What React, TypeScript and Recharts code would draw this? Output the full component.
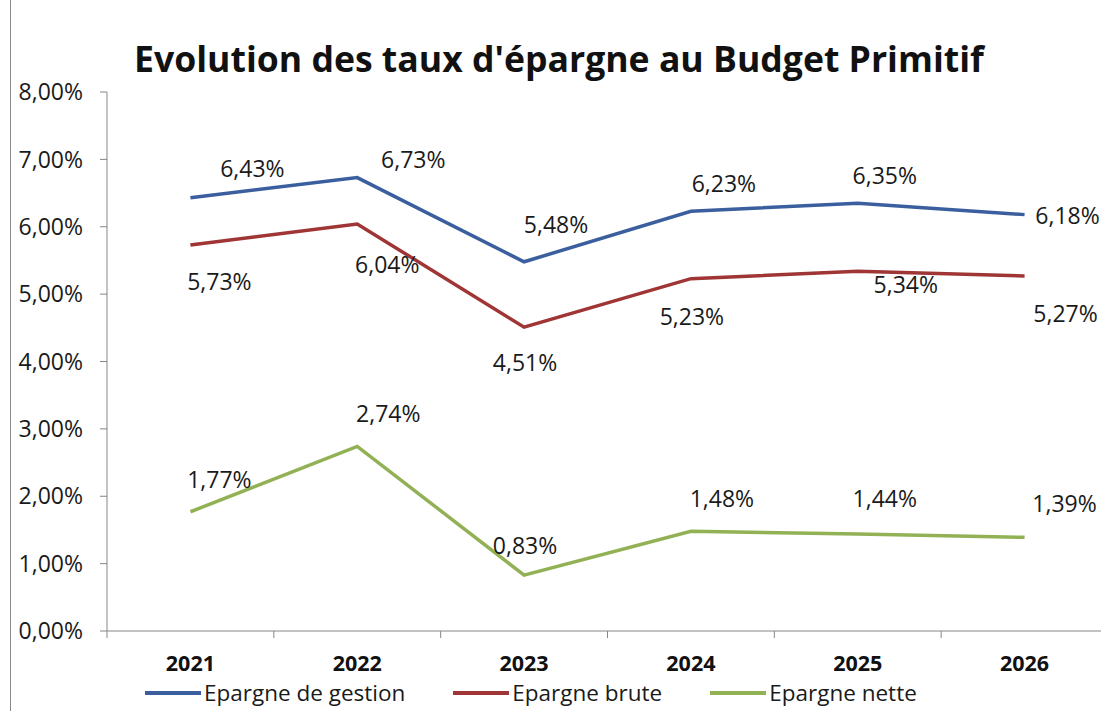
import { LineChart, Line, XAxis, YAxis, Legend, LabelList } from "recharts";

const years = ["2021", "2022", "2023", "2024", "2025", "2026"];
const gestion = [6.43, 6.73, 5.48, 6.23, 6.35, 6.18];
const brute = [5.73, 6.04, 4.51, 5.23, 5.34, 5.27];
const nette = [1.77, 2.74, 0.83, 1.48, 1.44, 1.39];
const yTicks = [0, 1, 2, 3, 4, 5, 6, 7, 8];

const series = [
  { key: "gestion", name: "Epargne de gestion", color: "#3B5F9E" },
  { key: "brute", name: "Epargne brute", color: "#A03535" },
  { key: "nette", name: "Epargne nette", color: "#92B155" },
];

// label nudges (dx, dy from the point), same as the manually placed Excel labels
const nudges: Record<string, [number, number][]> = {
  gestion: [[62, -30], [56, -19], [32, -38], [33, -28], [27, -28], [43, 0]],
  brute: [[29, 36], [30, 40], [1, 35], [1, 37], [48, 13], [41, 37]],
  nette: [[29, -33], [31, -33], [1, -30], [31, -33], [27, -36], [40, -34]],
};

const data = years.map((year, i) => ({
  year,
  gestion: gestion[i],
  brute: brute[i],
  nette: nette[i],
}));

const fmt = (v: number) => `${v.toFixed(2).replace(".", ",")}%`;
const FONT = "'Open Sans', sans-serif";
const AXIS = "#868686";

function makeLabel(key: string) {
  return (props: any) => {
    const { x, y, value, index } = props;
    const [dx, dy] = nudges[key][index] ?? [0, -20];
    return (
      <text
        x={x + dx}
        y={y + dy}
        textAnchor="middle"
        dominantBaseline="central"
        fontSize={23}
        fontFamily={FONT}
        fill="#1a1a1a"
      >
        {fmt(value)}
      </text>
    );
  };
}

// Excel style: tick marks sit between categories, label in the middle
function YearTick(props: any) {
  const { x, y, payload } = props;
  const half = payload?.offset ?? 0;
  return (
    <g>
      <line x1={x - half} x2={x - half} y1={y} y2={y + 7} stroke={AXIS} />
      <text
        x={x}
        y={y + 31}
        textAnchor="middle"
        dominantBaseline="central"
        fontSize={21.5}
        fontWeight={700}
        fontFamily={FONT}
        fill="#111"
      >
        {payload.value}
      </text>
    </g>
  );
}

function LegendContent() {
  return (
    <div
      style={{
        display: "flex",
        alignItems: "center",
        paddingLeft: 135,
        fontFamily: FONT,
        fontSize: 22.5,
        lineHeight: "26px",
        color: "#1a1a1a",
        height: 30,
      }}
    >
      {series.map((s) => (
        <div key={s.key} style={{ display: "flex", alignItems: "center", marginRight: 48 }}>
          <span
            style={{
              display: "inline-block",
              width: 56,
              height: 4,
              background: s.color,
              marginRight: 3,
            }}
          />
          <span>{s.name}</span>
        </div>
      ))}
    </div>
  );
}

export default function App() {
  return (
    <div
      style={{
        position: "absolute",
        left: 0,
        top: 0,
        width: 1101,
        height: 711,
        overflow: "hidden",
        background: "#fff",
      }}
    >
      <div
        style={{
          position: "absolute",
          left: 10,
          top: 0,
          width: 1,
          height: 711,
          background: "#8a8a8a",
        }}
      />
      <div
        style={{
          position: "absolute",
          left: 0,
          top: 34,
          width: 1120,
          paddingLeft: 134,
          boxSizing: "border-box",
          fontFamily: FONT,
          fontWeight: 700,
          fontSize: 35.6,
          color: "#111",
          lineHeight: "48px",
          whiteSpace: "nowrap",
        }}
      >
        Evolution des taux d'épargne au Budget Primitif
      </div>
      <LineChart
        width={1120}
        height={711}
        data={data}
        margin={{ top: 92, right: 12, left: 10, bottom: 3 }}
      >
        <YAxis
          type="number"
          domain={[0, 8]}
          ticks={yTicks}
          tickFormatter={fmt}
          width={97}
          tickSize={7}
          tickMargin={17}
          stroke={AXIS}
          tick={{ fill: "#1a1a1a", fontSize: 23, fontFamily: FONT }}
        />
        <XAxis
          dataKey="year"
          scale="band"
          stroke={AXIS}
          tickLine={false}
          tickSize={0}
          tickMargin={0}
          height={47}
          interval={0}
          tick={<YearTick />}
        />
        <Legend verticalAlign="bottom" height={30} content={<LegendContent />} />
        {series.map((s) => (
          <Line
            key={s.key}
            dataKey={s.key}
            name={s.name}
            stroke={s.color}
            strokeWidth={3.5}
            dot={false}
            isAnimationActive={false}
          >
            <LabelList dataKey={s.key} content={makeLabel(s.key)} />
          </Line>
        ))}
      </LineChart>
    </div>
  );
}
